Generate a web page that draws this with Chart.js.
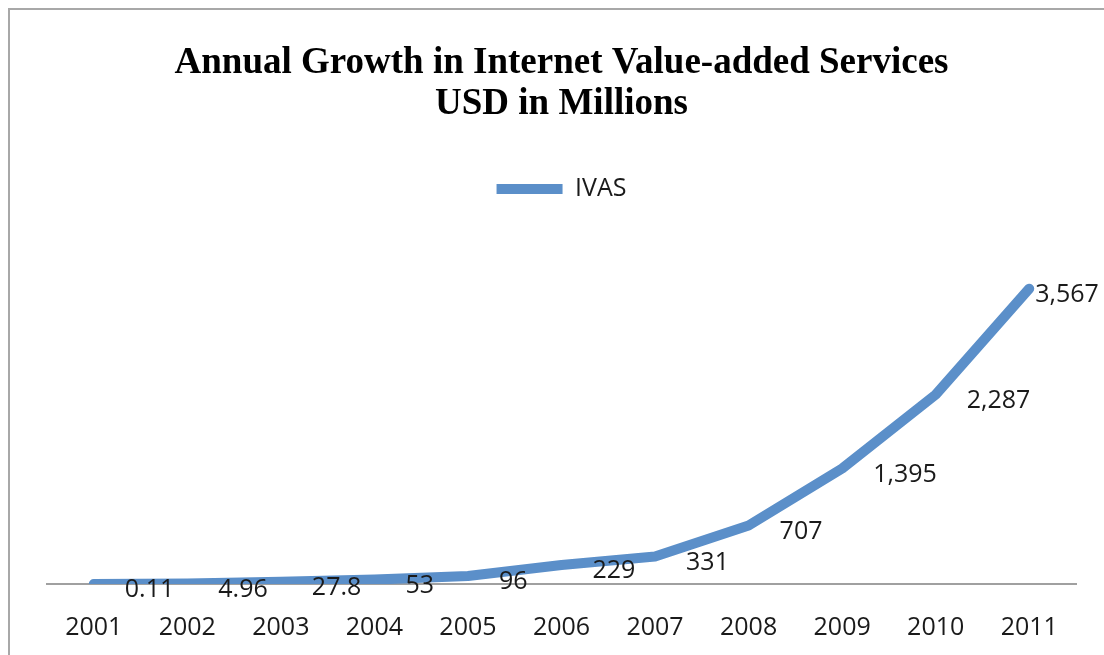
<!DOCTYPE html>
<html>
<head>
<meta charset="utf-8">
<script src="https://cdn.jsdelivr.net/npm/chart.js@4/dist/chart.umd.min.js"></script>
<style>
  html, body { margin: 0; padding: 0; background: #fff; overflow: hidden; }
  #frame { position: absolute; left: 8px; top: 8px; width: 1200px; height: 760px; border: 2px solid #a8a8a8; }
  #ivas { position: absolute; left: 0; top: 0; }
</style>
</head>
<body>
<div id="frame"></div>
<canvas id="ivas" width="1104" height="655"></canvas>
<script>
// IVAS revenue, USD millions
const years = ['2001', '2002', '2003', '2004', '2005', '2006', '2007', '2008', '2009', '2010', '2011'];
const ivas = [0.11, 4.96, 27.8, 53, 96, 229, 331, 707, 1395, 2287, 3567];
const titleLines = ['Annual Growth in Internet Value-added Services', 'USD in Millions'];

const LINE_BLUE = '#5b8fc9';
const fmt = v => v.toLocaleString('en-US', { maximumFractionDigits: 2 });

// value labels sit to the right of each point, Excel style
const pointLabels = {
  id: 'pointLabels',
  afterDatasetsDraw(chart) {
    const { ctx } = chart;
    const meta = chart.getDatasetMeta(0);
    ctx.save();
    ctx.font = '25px "Open Sans"';
    ctx.fillStyle = '#1a1a1a';
    ctx.textAlign = 'left';
    ctx.textBaseline = 'middle';
    meta.data.forEach((pt, i) => {
      const last = i === meta.data.length - 1;
      const dx = last ? 6 : 31;
      ctx.fillText(fmt(ivas[i]), pt.x + dx, pt.y + 6);
    });
    ctx.restore();
  }
};

new Chart(document.getElementById('ivas'), {
  type: 'line',
  data: {
    labels: years,
    datasets: [{
      label: 'IVAS',
      data: ivas,
      borderColor: LINE_BLUE,
      backgroundColor: LINE_BLUE,
      borderWidth: 10,
      borderCapStyle: 'round',
      borderJoinStyle: 'round',
      pointRadius: 0,
      pointHoverRadius: 0,
      pointStyle: 'line',
      tension: 0,
      fill: false,
    }],
  },
  options: {
    responsive: false,
    animation: false,
    layout: { padding: { left: 47, right: 28, top: 0, bottom: 18 } },
    plugins: {
      title: {
        display: true,
        text: titleLines,
        color: '#000',
        font: { family: '"Liberation Serif", "Times New Roman", serif', size: 37, weight: 'bold', lineHeight: 1.1 },
        padding: { top: 43, bottom: 42 },
      },
      legend: {
        display: true,
        labels: {
          usePointStyle: true,
          pointStyleWidth: 66,
          color: '#1a1a1a',
          font: { family: '"Open Sans"', size: 25 },
          padding: 10,
        },
      },
      tooltip: { enabled: false },
    },
    scales: {
      x: {
        offset: true,
        grid: { display: false, drawTicks: false },
        border: { display: true, color: '#a0a0a0', width: 2 },
        ticks: { color: '#1a1a1a', font: { family: '"Open Sans"', size: 25 }, padding: 29, maxRotation: 0, autoSkip: false },
        afterFit: scale => { scale.height = 53; },
      },
      y: {
        display: false,
        min: 0,
        max: 4500,
      },
    },
  },
  plugins: [pointLabels],
});
</script>
</body>
</html>
